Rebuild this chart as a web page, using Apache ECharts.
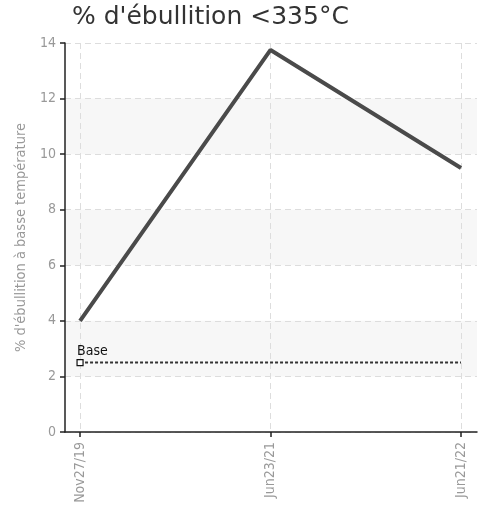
<!DOCTYPE html>
<html><head><meta charset="utf-8">
<script src="https://cdn.jsdelivr.net/npm/echarts@6/dist/echarts.min.js"></script>
<style>html,body{margin:0;padding:0;background:#fff}#c{width:487px;height:511px}</style>
</head><body><div id="c"></div>
<script>
const categories = ['Nov27/19', 'Jun23/21', 'Jun21/22'];
const values = [4, 13.75, 9.5];
const baseValues = [2.5, 2.5, 2.5];
const baseLabel = 'Base';
const yTicks = [0, 2, 4, 6, 8, 10, 12, 14];
const titleText = "% d'ébullition <335°C";
const yName = '% d\'ébullition à basse température';

const condensed = '"DejaVu Sans", sans-serif';
const cStyle = 'condensed';
const idx = categories.map((c, i) => i);
const chart = echarts.init(document.getElementById('c'));
chart.setOption({
  animation: false,
  title: {text: titleText, left: 67, top: 0,
    textStyle: {fontFamily: '"DejaVu Sans", sans-serif', fontSize: 25, fontWeight: 'normal', color: '#333'}},
  grid: {left: 65, right: 10, top: 43, bottom: 79},
  xAxis: {
    type: 'value', min: -0.079, max: 2.084,
    axisLine: {lineStyle: {color: '#222', width: 1.5}},
    axisTick: {customValues: idx, length: 5, lineStyle: {color: '#222', width: 1.5}},
    axisLabel: {customValues: idx, rotate: 90, color: '#999', fontFamily: condensed, fontStyle: cStyle, fontSize: 14, margin: 10,
      formatter: v => categories[Math.round(v)]},
    splitLine: {show: true, lineStyle: {color: '#ddd', type: [6, 4]}}
  },
  yAxis: {
    type: 'value', min: yTicks[0], max: yTicks[yTicks.length - 1], interval: 2,
    name: yName, nameLocation: 'middle', nameGap: 22,
    nameTextStyle: {color: '#999', fontFamily: condensed, fontStyle: cStyle, fontSize: 14.5},
    axisLine: {show: true, onZero: false, lineStyle: {color: '#222', width: 1.5}},
    axisTick: {show: true, length: 5, lineStyle: {color: '#222', width: 1.5}},
    axisLabel: {color: '#999', fontFamily: condensed, fontStyle: cStyle, fontSize: 14, margin: 9},
    splitLine: {show: true, lineStyle: {color: '#ddd', type: [6, 4]}},
    splitArea: {show: true, areaStyle: {color: ['rgba(0,0,0,0)', '#f7f7f7']}}
  },
  series: [
    {type: 'line', data: values.map((v, i) => [i, v]), symbol: 'none',
      lineStyle: {color: '#4a4a4a', width: 4}, z: 3},
    {type: 'line', data: baseValues.map((v, i) => i === 0 ? {
        value: [i, v], symbol: 'rect', symbolSize: 6,
        label: {show: true, formatter: baseLabel, position: 'top', align: 'left', offset: [-3, 4],
          color: '#111', fontFamily: condensed, fontStyle: cStyle, fontSize: 14}
      } : {value: [i, v], symbol: 'none'}),
      itemStyle: {color: '#fff', borderColor: '#111', borderWidth: 1.2},
      lineStyle: {color: '#333', width: 2, type: [3, 2]}, z: 2}
  ]
});
</script></body></html>
